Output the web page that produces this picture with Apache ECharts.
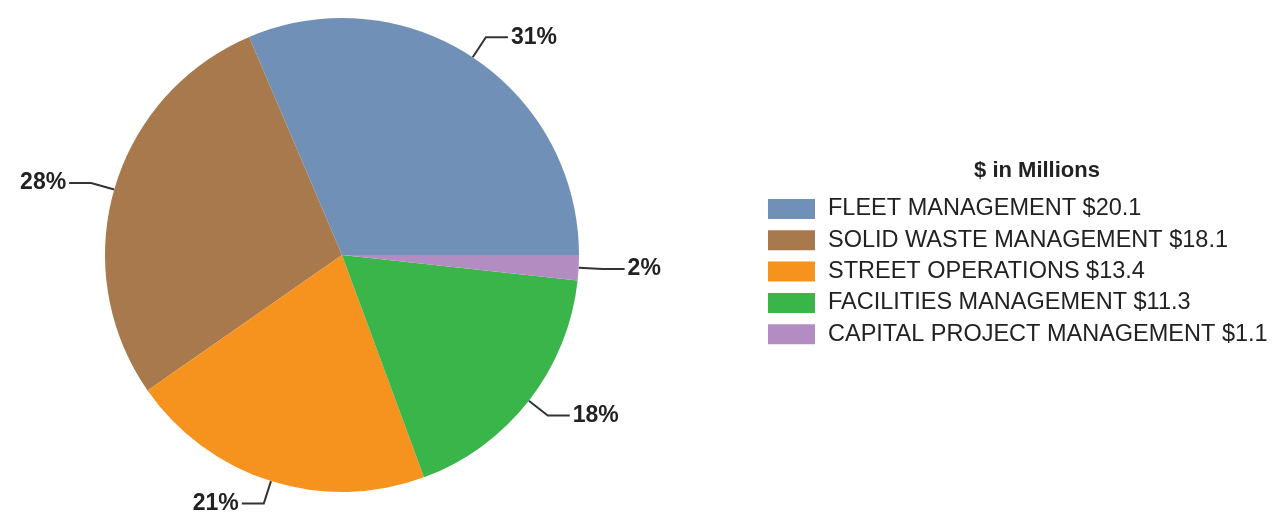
<!DOCTYPE html>
<html>
<head>
<meta charset="utf-8">
<script src="https://cdn.jsdelivr.net/npm/echarts@6/dist/echarts.min.js"></script>
<style>
  html, body { margin: 0; padding: 0; background: #fff; }
  #PieChart { width: 1286px; height: 516px; }
</style>
</head>
<body>
<div id="PieChart"></div>
<script>
const categories = [
  "FLEET MANAGEMENT",
  "SOLID WASTE MANAGEMENT",
  "STREET OPERATIONS",
  "FACILITIES MANAGEMENT",
  "CAPITAL PROJECT MANAGEMENT"
];
const amounts = [20.1, 18.1, 13.4, 11.3, 1.1];
const sliceColors = ["#7190b8", "#a7794d", "#f6931f", "#3ab54a", "#b38cc2"];

const chartDom = document.getElementById("PieChart");
const myChart = echarts.init(chartDom);

const pieData = categories.map((name, i) => ({ name: name, value: amounts[i] }));

const option = {
  color: sliceColors,
  title: {
    text: "$ in Millions",
    left: 1037,
    top: 160,
    padding: 0,
    textAlign: "center",
    textStyle: {
      fontFamily: "Liberation Sans",
      fontWeight: "bold",
      fontSize: 22,
      color: "#222"
    }
  },
  legend: {
    orient: "vertical",
    left: 768,
    top: 197,
    padding: 0,
    itemWidth: 47,
    itemHeight: 20,
    itemGap: 7.3,
    icon: "rect",
    data: categories,
    formatter: function (name) {
      const i = categories.indexOf(name);
      return name + " $" + amounts[i].toFixed(1);
    },
    textStyle: {
      fontFamily: "Liberation Sans",
      fontSize: 23.5,
      lineHeight: 20,
      color: "#222",
      padding: [0, 0, 0, 8]
    }
  },
  series: [
    {
      type: "pie",
      center: [342, 255],
      radius: [0, 237],
      startAngle: 0,
      clockwise: false,
      percentPrecision: 0,
      data: pieData,
      label: {
        show: true,
        position: "outside",
        formatter: "{d}%",
        fontFamily: "Liberation Sans",
        fontWeight: "bold",
        fontSize: 23,
        color: "#222",
        distanceToLabelLine: 3
      },
      labelLine: {
        show: true,
        length: 24,
        length2: 22,
        lineStyle: { color: "#333", width: 2 }
      },
      emphasis: { disabled: true }
    }
  ]
};
option && myChart.setOption(option);
window.addEventListener("resize", myChart.resize);
</script>
</body>
</html>
